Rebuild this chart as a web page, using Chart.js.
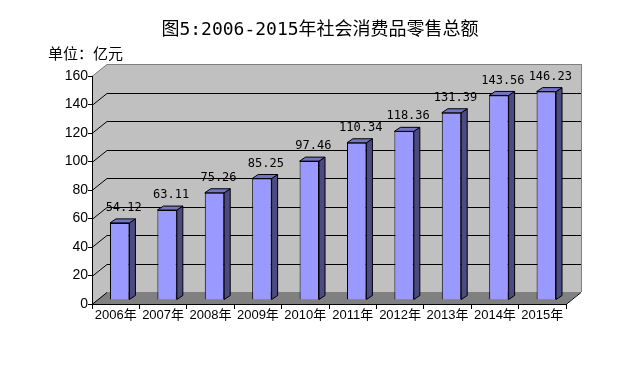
<!DOCTYPE html>
<html>
<head>
<meta charset="utf-8">
<script src="https://cdn.jsdelivr.net/npm/chart.js@4"></script>
<style>
  body { margin: 0; background: #fff; }
  canvas { display: block; }
</style>
</head>
<body>
<canvas id="chart" width="644" height="372"></canvas>
<script>
const title = '图5:2006-2015年社会消费品零售总额';
const unitLabel = '单位：亿元';
const categories = ['2006年', '2007年', '2008年', '2009年', '2010年', '2011年', '2012年', '2013年', '2014年', '2015年'];
const values = [54.12, 63.11, 75.26, 85.25, 97.46, 110.34, 118.36, 131.39, 143.56, 146.23];
const yMin = 0, yMax = 160, yStep = 20;

// 3D look
const DX = 15, DY = 12;   // wall depth
const BX = 4, BY = 4;     // bar offset into the floor
const SD = 6, SH = 4;     // bar depth

const walls = {
  id: 'walls',
  beforeDraw(chart) {
    const { ctx, chartArea: a, scales: { y } } = chart;
    ctx.save();
    // back wall + left wall
    ctx.fillStyle = '#c0c0c0';
    ctx.fillRect(a.left + DX, a.top - DY, a.right - a.left, a.bottom - a.top);
    ctx.beginPath();
    ctx.moveTo(a.left, a.top);
    ctx.lineTo(a.left + DX, a.top - DY);
    ctx.lineTo(a.left + DX, a.bottom - DY);
    ctx.lineTo(a.left, a.bottom);
    ctx.closePath();
    ctx.fill();
    // floor
    ctx.fillStyle = '#808080';
    ctx.beginPath();
    ctx.moveTo(a.left, a.bottom);
    ctx.lineTo(a.right, a.bottom);
    ctx.lineTo(a.right + DX, a.bottom - DY);
    ctx.lineTo(a.left + DX, a.bottom - DY);
    ctx.closePath();
    ctx.fill();

    // grid lines
    ctx.lineWidth = 1;
    y.ticks.forEach(t => {
      const py = Math.round(y.getPixelForValue(t.value)) + 0.5;
      ctx.strokeStyle = t.value === yMax ? '#808080' : '#000';
      ctx.beginPath();
      ctx.moveTo(a.left, py);
      ctx.lineTo(a.left + DX, py - DY);
      if (t.value !== yMin) ctx.lineTo(a.right + DX, py - DY);
      ctx.stroke();
    });
    // outline of the walls
    ctx.strokeStyle = '#808080';
    ctx.beginPath();
    ctx.moveTo(a.right + DX + 0.5, a.top - DY);
    ctx.lineTo(a.right + DX + 0.5, a.bottom - DY);
    ctx.stroke();
    ctx.strokeStyle = '#000';
    ctx.beginPath();
    ctx.moveTo(a.right, a.bottom + 0.5);
    ctx.lineTo(a.right + DX, a.bottom - DY + 0.5);
    ctx.stroke();
    ctx.restore();
  },
  beforeDatasetsDraw(chart) {
    chart.ctx.save();
    chart.ctx.translate(BX, -BY);
  },
  afterDatasetsDraw(chart) {
    const ctx = chart.ctx;
    const meta = chart.getDatasetMeta(0);
    ctx.lineWidth = 1;
    ctx.strokeStyle = '#000';
    meta.data.forEach((el, i) => {
      const { x, y, base, width } = el.getProps(['x', 'y', 'base', 'width'], true);
      const l = x - width / 2, r = x + width / 2;
      // side
      ctx.fillStyle = '#4b4b82';
      ctx.beginPath();
      ctx.moveTo(r, y);
      ctx.lineTo(r + SD, y - SH);
      ctx.lineTo(r + SD, base - SH);
      ctx.lineTo(r, base);
      ctx.closePath();
      ctx.fill();
      ctx.stroke();
      // top
      ctx.fillStyle = '#7474c4';
      ctx.beginPath();
      ctx.moveTo(l, y);
      ctx.lineTo(l + SD, y - SH);
      ctx.lineTo(r + SD, y - SH);
      ctx.lineTo(r, y);
      ctx.closePath();
      ctx.fill();
      ctx.stroke();
      // value label
      ctx.fillStyle = '#000';
      ctx.font = '12px "DejaVu Sans Mono", monospace';
      ctx.textAlign = 'center';
      ctx.textBaseline = 'middle';
      ctx.fillText(values[i].toFixed(2), x + 4, y - SH - 11);
    });
    ctx.restore();
  },
  afterDraw(chart) {
    const ctx = chart.ctx;
    ctx.save();
    ctx.fillStyle = '#000';
    ctx.textBaseline = 'middle';
    ctx.textAlign = 'center';
    ctx.font = '18px "DejaVu Sans Mono", "Noto Sans CJK SC"';
    ctx.fillText(title, 320, 30);
    ctx.textAlign = 'left';
    ctx.font = '15px "Noto Sans CJK SC"';
    ctx.fillText(unitLabel, 48, 53);
    ctx.restore();
  }
};

new Chart(document.getElementById('chart'), {
  type: 'bar',
  data: {
    labels: categories,
    datasets: [{
      data: values,
      backgroundColor: '#9999ff',
      borderColor: '#000',
      borderWidth: 1,
      barPercentage: 0.41,
      categoryPercentage: 1
    }]
  },
  options: {
    responsive: false,
    animation: false,
    layout: { padding: { left: 0, top: 76, right: 78, bottom: 38 } },
    plugins: { legend: { display: false }, tooltip: { enabled: false } },
    scales: {
      x: {
        afterFit: s => { s.height = 30; },
        grid: { offset: true, drawOnChartArea: false, tickLength: 5, color: '#000' },
        border: { display: true, color: '#000' },
        ticks: {
          color: '#000', padding: 0, maxRotation: 0, autoSkip: false,
          font: { family: '"Liberation Sans", "Noto Sans CJK SC"', size: 13, lineHeight: 1 }
        }
      },
      y: {
        min: yMin, max: yMax,
        afterFit: s => { s.width = 92; },
        grid: { drawOnChartArea: false, tickLength: 4, color: '#000' },
        border: { display: true, color: '#000' },
        ticks: {
          stepSize: yStep, color: '#000', padding: 0,
          font: { family: '"Liberation Sans"', size: 14 }
        }
      }
    }
  },
  plugins: [walls]
});
</script>
</body>
</html>
